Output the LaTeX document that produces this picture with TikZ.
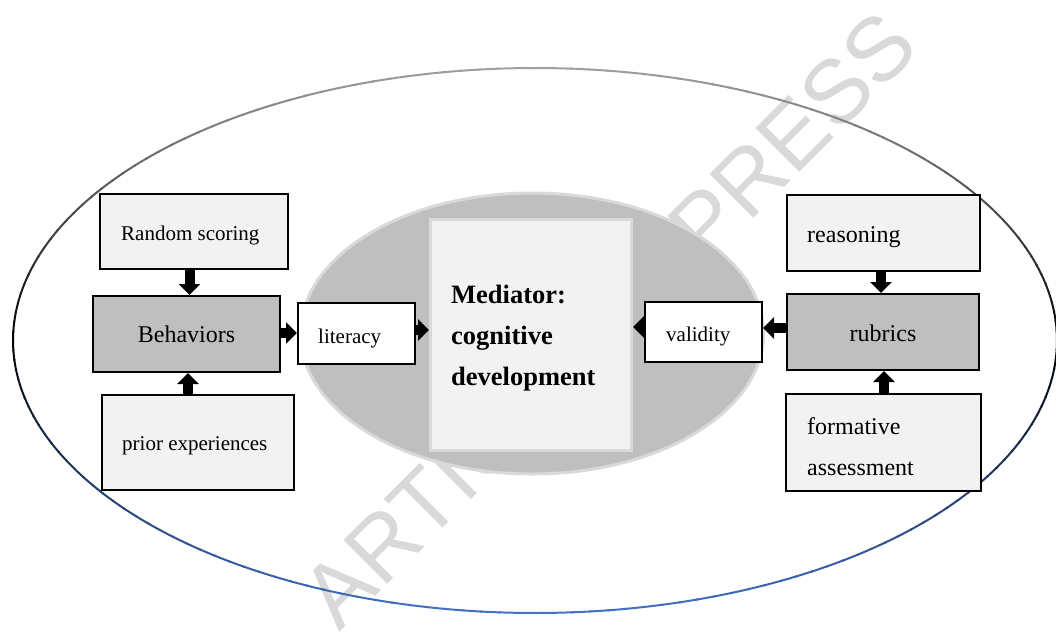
\documentclass[tikz,border=0pt]{standalone}
\usepackage{fontspec}
\setmainfont{Liberation Serif}
\newfontfamily\wmfont{Liberation Sans}
\usetikzlibrary{arrows.meta,calc,shapes.geometric}
\definecolor{ogray}{RGB}{160,160,160}
\definecolor{oblue}{RGB}{68,114,196}
\definecolor{boxlight}{RGB}{242,242,242}
\definecolor{boxdark}{RGB}{191,191,191}
\definecolor{rimgray}{RGB}{217,217,217}
\definecolor{wmgray}{RGB}{217,217,217}
\begin{document}
\begin{tikzpicture}[x=1pt,y=-1pt,
  box/.style={draw=black, line width=2.4pt, inner sep=0pt, rectangle},
  lightbox/.style={box, fill=boxlight},
  darkbox/.style={box, fill=boxdark},
  whitebox/.style={box, fill=white},
  lbl/.style={inner sep=0pt, anchor=base west, font=\fontsize{21}{25}\selectfont},
  biglbl/.style={inner sep=0pt, anchor=base west, align=left, font=\fontsize{24}{41}\selectfont},
  blk/.style={line width=10pt, -{Triangle[width=21pt,length=11pt]}, black}
]
\useasboundingbox (0,0) rectangle (1056,637);
% watermark
\node[rotate=45, text=wmgray, inner sep=0pt, font=\wmfont\fontsize{90}{90}\selectfont] (wm) at (609,319) {ARTICLE IN PRESS};
% outer ellipse with gradient stroke
\foreach \a in {0,2,...,358}{
  \pgfmathsetmacro\s{sin(\a+1)}
  \pgfmathtruncatemacro\tp{round(max(0,\s)*100)}
  \pgfmathtruncatemacro\tn{round(max(0,-\s)*100)}
  \ifnum\tn>0 \colorlet{segc}{oblue!\tn!black}\else\colorlet{segc}{ogray!\tp!black}\fi
  \draw[segc, line width=2pt, line cap=round] plot[domain=\a:\a+2.2, samples=3] ({535+522*cos(\x)},{340.5-272.5*sin(\x)});
}
% inner ellipse
\node[ellipse, draw=rimgray, line width=3pt, fill=boxdark, minimum width=463pt, minimum height=281pt, inner sep=0pt] (inner) at (532,333.5) {};
% center rectangle
\node[draw=rimgray, line width=3pt, fill=boxlight, minimum width=201pt, minimum height=231pt, inner sep=0pt] (med) at (531,335) {};
\node[inner sep=0pt, anchor=base west, align=left, font=\fontsize{26.5}{41}\selectfont\bfseries] (medt) at (451,385) {Mediator:\\cognitive\\development};
% left boxes
\node[lightbox, minimum width=187.6pt, minimum height=74.6pt] (rs) at (194,231.5) {};
\node[lbl] (rst) at (121,240) {Random scoring};
\node[darkbox, minimum width=186.6pt, minimum height=75.6pt] (beh) at (186.5,334) {};
\node[inner sep=0pt, font=\fontsize{24}{28}\selectfont, anchor=base] (beht) at (186.5,342) {Behaviors};
\node[lightbox, minimum width=191.6pt, minimum height=94.6pt] (pe) at (198,442.5) {};
\node[lbl] (pet) at (122,450) {prior experiences};
\node[whitebox, minimum width=116.6pt, minimum height=60.6pt] (lit) at (356.5,333.5) {};
\node[lbl] (litt) at (318,343) {literacy};
% right boxes
\node[lightbox, minimum width=192.6pt, minimum height=75.6pt] (rea) at (883.5,233) {};
\node[biglbl] (reat) at (807,242) {reasoning};
\node[darkbox, minimum width=191.6pt, minimum height=75.6pt] (rub) at (883,332) {};
\node[inner sep=0pt, font=\fontsize{24}{28}\selectfont, anchor=base] (rubt) at (883,341) {rubrics};
\node[lightbox, minimum width=194.6pt, minimum height=96.6pt] (fa) at (883.5,442.5) {};
\node[biglbl] (fat) at (807,475) {formative\\assessment};
\node[whitebox, minimum width=116.6pt, minimum height=59.6pt] (val) at (703.5,332) {};
\node[lbl] (valt) at (666,341) {validity};
% arrows
\draw[blk] ([xshift=3pt]rs.south -| beh.north) -- ([xshift=3pt]beh.north);
\draw[blk] ([xshift=1.5pt]pe.north -| beh.south) -- ([xshift=1.5pt]beh.south);
\draw[blk] ([yshift=1pt]beh.east) -- ([yshift=1pt]beh.east -| lit.west);
\draw[blk] ([yshift=3.5pt]lit.east) -- ([yshift=3.5pt]lit.east -| med.west);
\draw[blk] ([xshift=-2pt]rea.south -| rub.north) -- ([xshift=-2pt]rub.north);
\draw[blk] ([xshift=1pt]fa.north -| rub.south) -- ([xshift=1pt]rub.south);
\draw[blk] ([yshift=4pt]rub.west) -- ([yshift=4pt]rub.west -| val.east);
\draw[blk] ([yshift=5pt]val.west) -- ([yshift=5pt]val.west -| med.east);
\end{tikzpicture}
\end{document}
